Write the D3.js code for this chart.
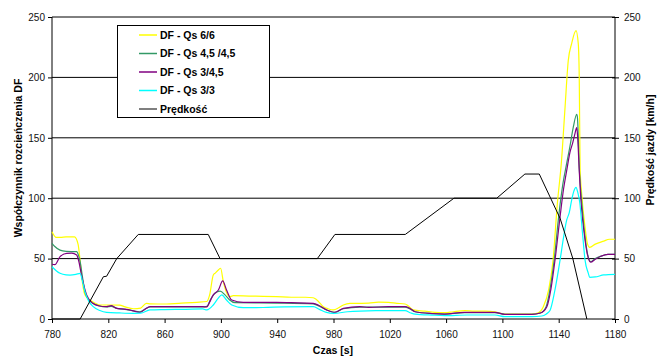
<!DOCTYPE html>
<html><head><meta charset="utf-8">
<script src="https://cdn.jsdelivr.net/npm/d3@7"></script>
<style>
html,body{margin:0;padding:0;background:#fff;}
svg{display:block;font-family:"Liberation Sans",Arial,sans-serif;}
</style></head>
<body><svg id="c" width="657" height="356"></svg>
<script>
// ---- data ----
const xTicks = [780,820,860,900,940,980,1020,1060,1100,1140,1180];
const yTicks = [0,50,100,150,200,250];
const seriesNames = ["DF - Qs 6/6","DF - Qs 4,5 /4,5","DF - Qs 3/4,5","DF - Qs 3/3","Prędkość"];
const seriesColors = ["#ffff00","#339966","#800080","#00ffff","#000000"];

const df66 = [[780,72.3],[783,67.5],[786,67.5],[790,68],[796,68],[798.5,62],[800,48],[801,36],[803.4,20],[807,15.7],[810,13.5],[814,11.6],[821,11.6],[828,11.5],[832,10],[838,8.5],[843,9],[847,13],[850,12.5],[855,12.4],[861.5,12.4],[870,13],[882.8,13.8],[890,14.5],[892,20],[894.6,36.4],[896,38],[898.2,40.6],[899.8,42],[901.7,31],[904,22],[906.5,18.5],[908.8,19.3],[920,19],[930,18.8],[939.6,18.5],[950,18],[960,18],[965.6,17.6],[968,16],[972.8,10.2],[976,8.5],[979.9,7.5],[984,9.5],[987,11.6],[991.7,13],[995.3,13],[1005,13.2],[1012,14],[1019,13.8],[1025,13],[1030.8,12.4],[1033,11],[1036.7,7.5],[1045,6.5],[1052,5.5],[1059.2,5.2],[1065,6],[1073.4,6.9],[1080,6.5],[1088,6.5],[1094.7,6],[1098,5],[1101.8,4.1],[1110,4],[1120.8,4.1],[1125,5],[1129,10],[1133,25],[1136,48.8],[1139,95],[1142,131],[1144.5,175],[1146.8,214],[1149.2,228],[1152.3,238.7],[1153.9,228],[1154.6,200],[1155.2,125],[1156.3,104],[1158.7,76],[1160.5,62],[1162,59.3],[1166,62],[1172,64.5],[1176,66],[1180,66]];

const df4545 = [[780,62.6],[782,60],[785.7,57],[790,56],[797.5,55.7],[799,52],[800,47.5],[801.5,36],[803.5,22],[806,16],[809,13],[813,11],[818.8,10],[822,10.5],[826,8.8],[833,7.8],[837,7],[842.5,6],[846,8],[849.6,10],[870,10],[887,10],[890,10.5],[893,17],[895.8,21.3],[899.4,23],[902.9,20],[906,16],[910,13.5],[939.6,13.2],[965.6,12.6],[970,10.5],[975.2,7.5],[981,5.5],[987,8.5],[998.8,9.8],[1019,9.8],[1030.8,9.8],[1034,8.5],[1038,6],[1050,4.5],[1059,4.1],[1073,5.3],[1094.7,5.3],[1101.8,3.9],[1120.8,3.9],[1127,5],[1131,10],[1134,26],[1136.8,49],[1140,85],[1143,112],[1145.7,129],[1148,143],[1150.4,159],[1152.8,169.5],[1153.3,167],[1154.7,123],[1156.5,95],[1158.5,70],[1160.3,55],[1162.7,47.5],[1166,50],[1170,52],[1175,53.5],[1180,53.5]];

const df345 = [[780,45.3],[782,45],[785.7,51.6],[790.4,54.4],[794,54.5],[797.5,53],[799,48],[801,36],[804.6,20],[809,13],[813,11],[818.8,10.2],[822,11],[826,8.8],[833,8],[837,7],[842.5,5.5],[846,8],[849.6,10.2],[870,10.2],[887,10.2],[890,10],[892,14],[894.6,20],[898.2,24],[901.3,31.5],[904,24],[907.7,15.7],[915.9,13.8],[939.6,13.8],[950,13.5],[965.6,13],[970,11],[975.2,7.5],[981,5.5],[987,8.8],[998.8,10.2],[1005,9.7],[1019,10.2],[1030.8,10.2],[1034,9],[1038,6],[1050,4.5],[1059,4.1],[1073,5.5],[1094.7,5.5],[1101.8,3.9],[1120.8,3.9],[1127,5],[1131.5,10],[1134.5,25],[1137.4,49],[1141,85],[1143.5,108],[1145.7,123],[1148,138],[1150,146],[1151.6,153.7],[1152.8,158.4],[1153.5,150],[1154.5,125],[1156,95],[1158,72],[1160.3,54],[1162.7,47],[1166,49.5],[1170,52],[1175,53.5],[1180,53.5]];

const df33 = [[780,43.3],[783,40],[785.7,37.8],[790,36.5],[792.8,36.4],[797,37],[800,37.8],[801.5,32],[803.4,22.6],[806,15],[809.3,10.2],[814,7],[818.8,5.5],[828,5],[837.8,4.7],[843,4.8],[849.6,7.5],[860,7.8],[875,8],[887,8.3],[890,7.5],[894.6,11.6],[898,17],[900.6,20],[904,15.7],[907.7,11.6],[915.9,9.4],[930,9.5],[945,10],[965.6,10.2],[970,8],[975,5.5],[980,4.7],[990,6],[998.8,6.6],[1010,6.9],[1019,6.9],[1030.8,6.9],[1035,5],[1038,4.1],[1050,3.2],[1059,2.8],[1075,3.3],[1094.7,3.3],[1101.8,1.9],[1120.8,1.9],[1128,2.5],[1131,4],[1133.8,7],[1137,22],[1141,49],[1143.5,68],[1145.7,82],[1147.5,88],[1149.2,98.5],[1150.8,106],[1152.3,109],[1153.5,105],[1155,96],[1157,70],[1158.7,49],[1161,38],[1162,34.5],[1166,34.8],[1172,36.5],[1180,37]];

const speed = [[780,0],[800,0],[816.5,35],[818.8,35.4],[826,50],[841.3,70],[891,70],[899.4,50],[968.5,50],[981,70],[1031,70],[1065.6,100],[1096,100],[1116,120],[1126.2,120],[1141,83.3],[1150,50.2],[1160,0]];

// ---- drawing ----
const svg = d3.select("#c");
const x = d3.scaleLinear().domain([780,1180]).range([52,615]);
const y = d3.scaleLinear().domain([0,250]).range([319,17]);
const y2 = d3.scaleLinear().domain([0,250]).range([319,17]);
const fmt = d3.format("d");

// gridlines
svg.append("g").selectAll("line").data(yTicks.filter(d=>d>0)).join("line")
  .attr("x1",52).attr("x2",615).attr("y1",d=>y(d)).attr("y2",d=>y(d))
  .attr("stroke","#000").attr("stroke-width",1);

// left axis
const gl = svg.append("g").attr("transform","translate(52,0)")
  .call(d3.axisLeft(y).tickValues(yTicks).tickFormat(fmt).tickSize(4).tickPadding(3));
// right axis
const gr = svg.append("g").attr("transform","translate(615,0)")
  .call(d3.axisRight(y2).tickValues(yTicks).tickFormat(fmt).tickSize(4).tickPadding(5));
gr.selectAll(".tick line").attr("x1",-3);
// bottom axis
const gb = svg.append("g").attr("transform","translate(0,319)")
  .call(d3.axisBottom(x).tickValues(xTicks).tickFormat(fmt).tickSize(4).tickPadding(8));
[gl,gr,gb].forEach(g=>{
  g.select(".domain").attr("stroke","#000");
  g.selectAll(".tick line").attr("stroke","#000");
  g.selectAll("text").attr("font-size",10).attr("fill","#111")
    .attr("font-family","'Liberation Sans',Arial,sans-serif");
});
gl.select(".domain").attr("d","M0,17V319");
gr.select(".domain").attr("d","M0,17V319");
gb.select(".domain").attr("d","M52,0H615");

// lines
const line = d3.line().x(d=>x(d[0])).y(d=>y(d[1])).curve(d3.curveMonotoneX);
const lineS = d3.line().x(d=>x(d[0])).y(d=>y2(d[1]));
const dfSeries = [df66, df4545, df345, df33];
dfSeries.forEach((s,i)=>{
  svg.append("path").datum(s).attr("d",line).attr("fill","none")
    .attr("stroke",seriesColors[i]).attr("stroke-width",1.2);
});
svg.append("path").datum(speed).attr("d",lineS).attr("fill","none")
  .attr("stroke",seriesColors[4]).attr("stroke-width",1);

// legend
const lg = svg.append("g");
lg.append("rect").attr("x",117.5).attr("y",25.5).attr("width",152).attr("height",92)
  .attr("fill","#fff").attr("stroke","#000").attr("stroke-width",1);
seriesNames.forEach((n,i)=>{
  const cy = 35 + i*18.5;
  lg.append("line").attr("x1",139).attr("x2",157).attr("y1",cy).attr("y2",cy)
    .attr("stroke", i===4 ? "#555" : seriesColors[i]).attr("stroke-width",1.5);
  lg.append("text").attr("x",160).attr("y",cy).attr("dy","0.35em")
    .attr("font-size",10.5).attr("font-weight","bold").text(n);
});

// axis titles
svg.append("text").attr("transform","translate(22,158) rotate(-90)")
  .attr("text-anchor","middle").attr("font-size",10.5).attr("font-weight","bold")
  .text("Współczynnik rozcieńczenia DF");
svg.append("text").attr("transform","translate(654,150) rotate(-90)")
  .attr("text-anchor","middle").attr("font-size",10.5).attr("font-weight","bold")
  .text("Prędkość jazdy [km/h]");
svg.append("text").attr("x",333).attr("y",354)
  .attr("text-anchor","middle").attr("font-size",10.5).attr("font-weight","bold")
  .text("Czas [s]");
</script></body></html>
